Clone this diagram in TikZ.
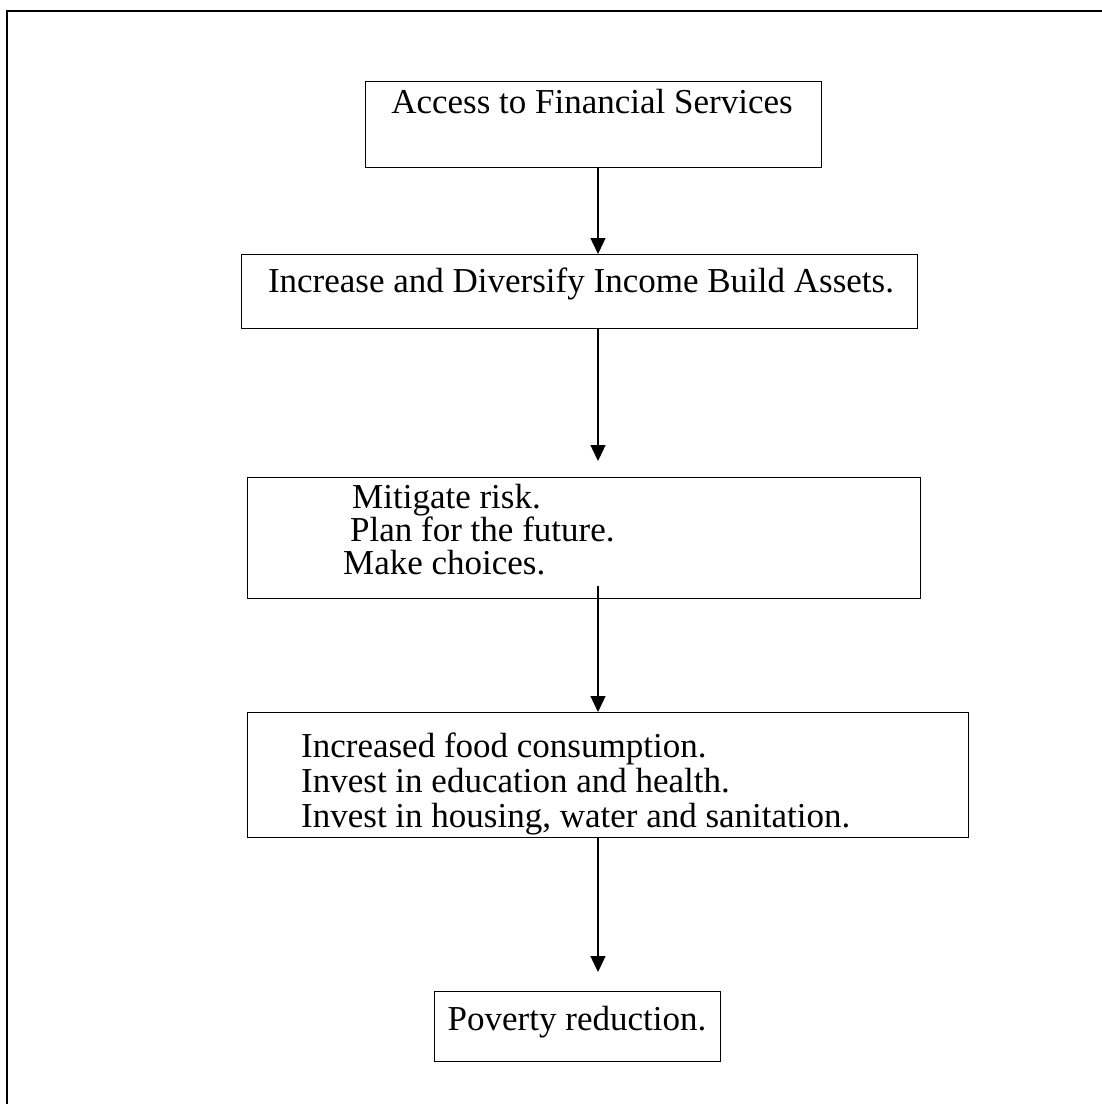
\documentclass[tikz,border=0pt]{standalone}
\usepackage{fontspec}
\setmainfont{Liberation Serif}
\usetikzlibrary{arrows.meta}
\begin{document}
\begin{tikzpicture}[x=1pt,y=-1pt,
  frame/.style={draw, line width=1.3pt},
  box/.style={draw, line width=1.3pt, rectangle, inner sep=0pt, anchor=north west},
  label/.style={inner sep=0pt, anchor=base, font=\fontsize{35}{39}\selectfont},
  leftlabel/.style={label, anchor=base west},
  flow/.style={draw, line width=1.3pt, -{Triangle[width=15pt,length=16pt]}}]
  \useasboundingbox (0,0) rectangle (1102,1104);
  % outer frame (top and left edges)
  \draw[frame] (7,1104) -- (7,11) -- (1102,11);
  % column along which the arrows run
  \coordinate (ax) at (598,0);
  % boxes
  \node[box, minimum width=456pt, minimum height=86pt] (b1) at (365,81) {};
  \node[box, minimum width=676pt, minimum height=74pt] (b2) at (241,254) {};
  \node[box, minimum width=673pt, minimum height=121pt] (b3) at (247,477) {};
  \node[box, minimum width=721pt, minimum height=125pt] (b4) at (247,712) {};
  \node[box, minimum width=286pt, minimum height=70pt] (b5) at (434,991) {};
  % texts
  \node[label] (t1) at (592,113) {Access to Financial Services};
  \node[label] (t2) at (581,292) {Increase and Diversify Income Build Assets.};
  \node[leftlabel] (t3a) at (352,508) {Mitigate risk.};
  \node[leftlabel] (t3b) at (350,541) {Plan for the future.};
  \node[leftlabel] (t3c) at (343,574) {Make choices.};
  \node[leftlabel] (t4a) at (301,757) {Increased food consumption.};
  \node[leftlabel] (t4b) at (301,792) {Invest in education and health.};
  \node[leftlabel] (t4c) at (301,827) {Invest in housing, water and sanitation.};
  \node[label] (t5) at (577,1030) {Poverty reduction.};
  % arrows
  \path[flow] (b1.south -| ax) -- (b2.north -| ax);
  \path[flow] (b2.south -| ax) -- ([yshift=16pt]b3.north -| ax);
  \path[flow] ([yshift=13pt]b3.south -| ax) -- (b4.north -| ax);
  \path[flow] (b4.south -| ax) -- ([yshift=19pt]b5.north -| ax);
\end{tikzpicture}
\end{document}
